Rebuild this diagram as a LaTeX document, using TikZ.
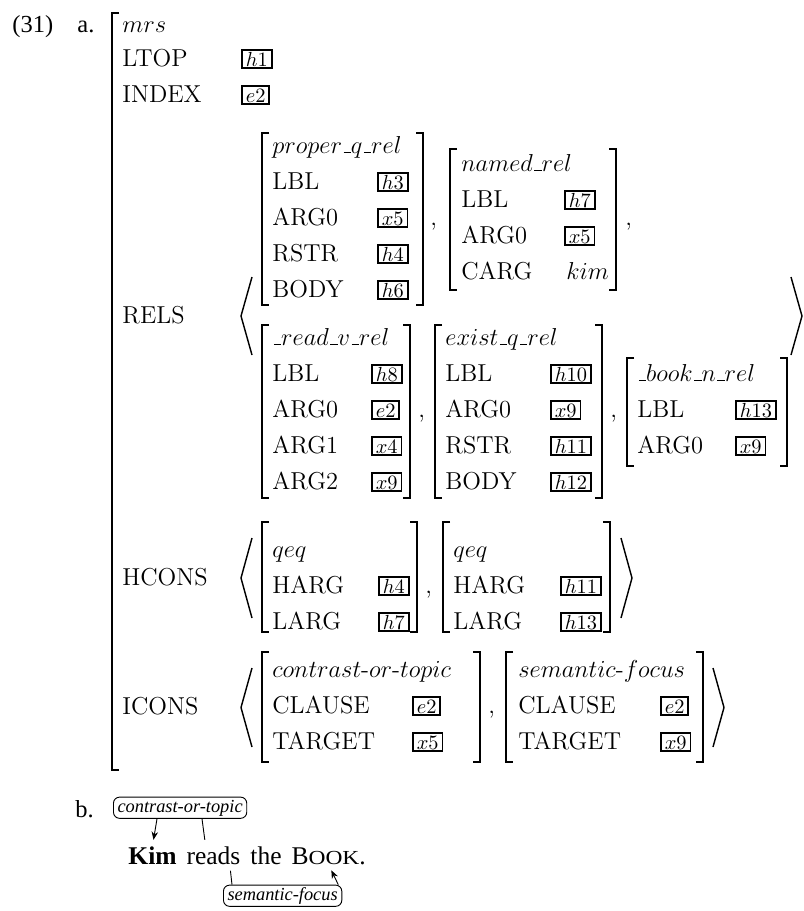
\documentclass[tikz,border=0pt]{standalone}
\usepackage{fontspec}
\usepackage{graphicx}
\usepackage{tikz}
\usetikzlibrary{arrows.meta, positioning, calc}
\newfontfamily\exfont{Liberation Serif}
% short low bar used inside relation names
\newcommand{\usc}{\kern.06em\vbox{\hrule width.3em height.6pt}}
\tikzset{
  % attribute names and type labels of the feature structure
  feat/.style={
    anchor=base west, inner sep=0pt,
    font=\fontsize{12}{14}\selectfont,
  },
  % boxed coindexation tags
  tagbox/.style={
    draw, line width=0.9pt, anchor=base west,
    inner xsep=1.9pt, inner ysep=0.9pt,
    text height=6.9pt, text depth=0pt,
    font=\fontsize{10}{10}\selectfont,
  },
  % bracket strokes
  brk/.style={line width=0.7pt},
  % running text of the example
  extext/.style={
    anchor=base west, inner sep=0pt,
    font=\exfont\fontsize{12}{14}\selectfont,
  },
  sent/.style={
    anchor=base west, inner sep=0pt,
    font=\exfont\fontsize{12.5}{14}\selectfont,
  },
  % information-structure labels under / over the sentence
  icolab/.style={
    draw, line width=0.45pt, rounded corners=3pt, anchor=base west,
    inner xsep=2pt, inner ysep=1.1pt,
    text height=6.2pt, text depth=2pt,
    font=\exfont\itshape\fontsize{9}{10}\selectfont,
  },
  icoarr/.style={-{Stealth[length=4pt,width=3.2pt]}, line width=0.45pt, shorten >=3pt},
  icoline/.style={line width=0.45pt, shorten >=3pt},
}
% square brackets: left x, top y, right x, bottom y
\newcommand{\sqpair}[4]{%
  \draw[brk] (#1+7,#2) -- (#1,#2) -- (#1,#4) -- (#1+7,#4);
  \draw[brk] (#3-7,#2) -- (#3,#2) -- (#3,#4) -- (#3-7,#4);}
% angle brackets: left x, top y, right x, bottom y
\newcommand{\angpair}[4]{%
  \draw[brk] (#1+11,#2) -- (#1,{(#2+#4)/2}) -- (#1+11,#4);
  \draw[brk] (#3-11,#2) -- (#3,{(#2+#4)/2}) -- (#3-11,#4);}

\begin{document}
\begin{tikzpicture}[x=0.49pt, y=-0.49pt]
\useasboundingbox (0,0) rectangle (804,911);

%% ═══════════════════════════════════════════════════════════════════════════
%% (31a) – the MRS
%% ═══════════════════════════════════════════════════════════════════════════

\node[extext] (exnum) at (12,32) {(31)};
\node[extext] (exa) at (77,32) {a.};

% outer bracket (left side only)
\draw[brk] (119,13) -- (112,13) -- (112,770) -- (119,770);

\node[feat] (mrs) at (122,32) {$mrs$};
\node[feat] (ltop) at (122,66) {LTOP};
\node[tagbox] (ltop-t) at (241,66) {$h1$};
\node[feat] (index) at (122,102) {INDEX};
\node[tagbox] (index-t) at (241,102) {$e2$};

%% RELS
\node[feat] (rels) at (122,323) {RELS};
\angpair{241}{277}{802}{355}

% proper_q_rel
\node[feat] (pq) at (272,153) {$proper\usc q\usc rel$};
\foreach \f/\t [count=\i] in {LBL/h3, ARG0/x5, RSTR/h4, BODY/h6} {
  \node[feat] (pq-f\i) at (272,153+36*\i) {\f};
  \node[tagbox] (pq-t\i) at (377,153+36*\i) {$\t$};
}
\sqpair{262}{133}{423}{305}
\node[feat] (c1) at (430,225) {,};

% named_rel
\node[feat] (nr) at (461,171) {$named\usc rel$};
\foreach \f/\t [count=\i] in {LBL/h7, ARG0/x5} {
  \node[feat] (nr-f\i) at (461,171+36*\i) {\f};
  \node[tagbox] (nr-t\i) at (564,171+36*\i) {$\t$};
}
\node[feat] (nr-f3) at (461,279) {CARG};
\node[feat] (nr-v3) at (566,279) {$kim$};
\sqpair{450}{149}{616}{290}
\node[feat] (c2) at (625,225) {,};

% _read_v_rel
\node[feat] (rv) at (272,345) {$\usc read\usc v\usc rel$};
\foreach \f/\t [count=\i] in {LBL/h8, ARG0/e2, ARG1/x4, ARG2/x9} {
  \node[feat] (rv-f\i) at (272,345+36*\i) {\f};
  \node[tagbox] (rv-t\i) at (371,345+36*\i) {$\t$};
}
\sqpair{262}{325}{410}{498}
\node[feat] (c3) at (418,417) {,};

% exist_q_rel
\node[feat] (eq) at (445,345) {$exist\usc q\usc rel$};
\foreach \f/\t [count=\i] in {LBL/h10, ARG0/x9, RSTR/h11, BODY/h12} {
  \node[feat] (eq-f\i) at (445,345+36*\i) {\f};
  \node[tagbox] (eq-t\i) at (550,345+36*\i) {$\t$};
}
\sqpair{435}{325}{602}{498}
\node[feat] (c4) at (610,417) {,};

% _book_n_rel
\node[feat] (bn) at (637,381) {$\usc book\usc n\usc rel$};
\foreach \f/\t [count=\i] in {LBL/h13, ARG0/x9} {
  \node[feat] (bn-f\i) at (637,381+36*\i) {\f};
  \node[tagbox] (bn-t\i) at (735,381+36*\i) {$\t$};
}
\sqpair{627}{358}{787}{466}

%% HCONS
\node[feat] (hcons) at (122,585) {HCONS};
\angpair{241}{538}{632}{618}

\node[feat] (q1) at (272,557) {$qeq$};
\foreach \f/\t [count=\i] in {HARG/h4, LARG/h7} {
  \node[feat] (q1-f\i) at (272,557+36*\i) {\f};
  \node[tagbox] (q1-t\i) at (378,557+36*\i) {$\t$};
}
\sqpair{262}{522}{417}{632}
\node[feat] (c5) at (425,593) {,};

\node[feat] (q2) at (453,557) {$qeq$};
\foreach \f/\t [count=\i] in {HARG/h11, LARG/h13} {
  \node[feat] (q2-f\i) at (453,557+36*\i) {\f};
  \node[tagbox] (q2-t\i) at (560,557+36*\i) {$\t$};
}
\sqpair{443}{522}{610}{632}

%% ICONS
\node[feat] (icons) at (122,714) {ICONS};
\angpair{241}{668}{724}{747}

\node[feat] (ct) at (272,677) {$contrast\mbox{-}or\mbox{-}topic$};
\foreach \f/\t [count=\i] in {CLAUSE/e2, TARGET/x5} {
  \node[feat] (ct-f\i) at (272,677+36*\i) {\f};
  \node[tagbox] (ct-t\i) at (412,677+36*\i) {$\t$};
}
\sqpair{262}{652}{480}{762}
\node[feat] (c6) at (488,713) {,};

\node[feat] (sf) at (518,677) {$semantic\mbox{-}focus$};
\foreach \f/\t [count=\i] in {CLAUSE/e2, TARGET/x9} {
  \node[feat] (sf-f\i) at (518,677+36*\i) {\f};
  \node[tagbox] (sf-t\i) at (660,677+36*\i) {$\t$};
}
\sqpair{506}{652}{703}{762}

%% ═══════════════════════════════════════════════════════════════════════════
%% (31b) – the sentence with its ICONS arcs
%% ═══════════════════════════════════════════════════════════════════════════

\node[extext] (exb) at (75,817) {b.};

\node[sent, font=\exfont\bfseries\fontsize{12.5}{14}\selectfont] (kim) at (128,864) {Kim};
\node[sent, base right=4.5pt of kim] (reads) {reads};
\node[sent, base right=4.5pt of reads] (the) {the};
\node[sent, base right=4.5pt of the] (book) {B\scalebox{0.92}[0.78]{OOK}.};

\node[icolab] (ctlab) at (113,812) {contrast-or-topic};
\node[icolab] (sflab) at (223,900) {semantic-focus};

\draw[icoarr] ($(ctlab.south west)+(44,0)$) -- (kim.north);
\draw[icoline] ($(ctlab.south west)+(89,0)$) -- (reads.130);
\draw[icoline] ($(sflab.north west)+(9,0)$) -- (reads.-30);
\draw[icoarr] ($(sflab.north east)+(-4,0)$) -- (book.south);

\end{tikzpicture}
\end{document}
